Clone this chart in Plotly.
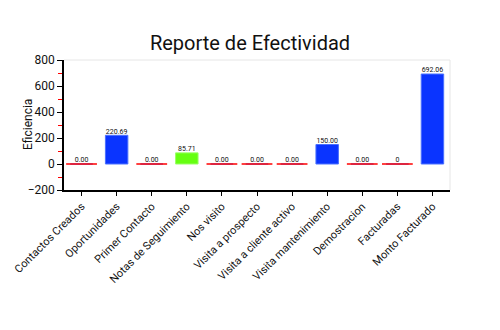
import plotly.graph_objects as go

categories = ["Contactos Creados", "Oportunidades", "Primer Contacto", "Notas de Seguimiento",
              "Nos visito", "Visita a prospecto", "Visita a cliente activo",
              "Visita mantenimiento", "Demostracion", "Facturadas", "Monto Facturado"]
values = [0, 220.69, 0, 85.71, 0, 0, 0, 150.00, 0, 0, 692.06]
labels = ["0.00", "220.69", "0.00", "85.71", "0.00", "0.00", "0.00", "150.00", "0.00", "0", "692.06"]
bar_colors = ["#0a34ff", "#0a34ff", "#0a34ff", "#66ff11", "#0a34ff", "#0a34ff", "#0a34ff",
              "#0a34ff", "#0a34ff", "#0a34ff", "#0a34ff"]
bar_edges = ["#4a70ff", "#4a70ff", "#4a70ff", "#99ff66", "#4a70ff", "#4a70ff", "#4a70ff",
             "#4a70ff", "#4a70ff", "#4a70ff", "#4a70ff"]

FONT = "Roboto"

zero_x = [c for c, v in zip(categories, values) if v == 0]
zero_y = [v for v in values if v == 0]

fig = go.Figure()
fig.add_trace(go.Bar(
    x=categories, y=values,
    marker=dict(color=bar_colors, line=dict(color=bar_edges, width=1)),
    hoverinfo="skip", showlegend=False,
))
fig.add_trace(go.Scatter(
    x=zero_x, y=zero_y, mode="markers",
    marker=dict(symbol="line-ew", size=22, line=dict(color="#ff0000", width=1.5)),
    hoverinfo="skip", showlegend=False, cliponaxis=False,
))
fig.add_trace(go.Scatter(
    x=categories, y=values, mode="text", text=labels, textposition="top center",
    textfont=dict(size=7, color="#111", family=FONT),
    hoverinfo="skip", showlegend=False, cliponaxis=False,
))

fig.update_layout(
    width=500, height=330,
    margin=dict(l=61, r=50, t=60, b=140),
    paper_bgcolor="white", plot_bgcolor="white",
    bargap=0.36,
    title=dict(text="Reporte de Efectividad", x=0.5, xanchor="center", y=0.87, yanchor="middle",
               font=dict(size=20, color="#111", family=FONT)),
    font=dict(family=FONT, color="#111"),
)
fig.update_xaxes(
    range=[-0.5, len(categories) - 0.5],
    showline=True, linecolor="#000", linewidth=1.5, mirror=False,
    ticks="outside", ticklen=4, tickcolor="#000", tickangle=-45,
    tickfont=dict(size=11, family=FONT, color="#111"), showgrid=False,
)
fig.update_yaxes(
    range=[-200, 800], tickvals=[-200, 0, 200, 400, 600, 800],
    showline=True, linecolor="#000", linewidth=1.5,
    ticks="outside", ticklen=5, tickcolor="#000",
    minor=dict(tickvals=[-100, 100, 300, 500, 700], ticks="outside", ticklen=4, tickcolor="#ff0000"),
    tickfont=dict(size=12, family=FONT, color="#111"), showgrid=False, zeroline=False,
)
fig.add_annotation(text="Eficiencia", xref="paper", yref="paper", x=0, y=0.5,
                   xshift=-36, xanchor="center", yanchor="middle", textangle=-90,
                   showarrow=False, font=dict(size=12, family=FONT, color="#111"))
# light frame on top/right
fig.add_shape(type="line", xref="paper", yref="paper", x0=0, x1=1, y0=1, y1=1,
              line=dict(color="#e6e6e6", width=1))
fig.add_shape(type="line", xref="paper", yref="paper", x0=1, x1=1, y0=0, y1=1,
              line=dict(color="#e6e6e6", width=1))

fig.write_html("out.html")
